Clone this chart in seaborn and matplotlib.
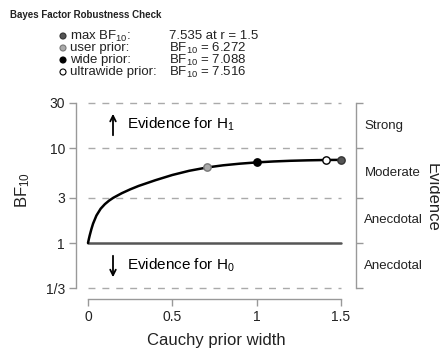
import numpy as np
import pandas as pd
import matplotlib
matplotlib.use("Agg")
import matplotlib.pyplot as plt
import seaborn as sns

# ---- data ----
prior_width = [0, 0.005, 0.01, 0.02, 0.03, 0.05, 0.075, 0.1, 0.125, 0.15, 0.2, 0.25, 0.3,
               0.4, 0.5, 0.6, 0.707, 0.8, 0.9, 1.0, 1.1, 1.2, 1.3, 1.414, 1.5]
bf10 = [1, 1.1, 1.2, 1.4, 1.6, 1.95, 2.3, 2.57, 2.8, 3.0, 3.35, 3.68, 4.0,
        4.6, 5.22, 5.78, 6.272, 6.6, 6.87, 7.088, 7.25, 7.37, 7.45, 7.516, 7.535]

point_names = ["max", "user", "wide", "ultrawide"]
point_r = [1.5, 0.707, 1.0, 1.414]
point_bf = [7.535, 6.272, 7.088, 7.516]
point_face = ["#555555", "#aaaaaa", "black", "white"]
point_edge = ["#333333", "#777777", "black", "black"]

legend_labels = ["max BF$_{10}$:", "user prior:", "wide prior:", "ultrawide prior:"]
legend_values = ["7.535 at r = 1.5", "BF$_{10}$ = 6.272", "BF$_{10}$ = 7.088", "BF$_{10}$ = 7.516"]

y_ticks = [1/3, 1, 3, 10, 30]
y_ticklabels = ["1/3", "1", "3", "10", "30"]
x_ticks = [0, 0.5, 1, 1.5]
x_ticklabels = ["0", "0.5", "1", "1.5"]
evidence_labels = ["Anecdotal", "Anecdotal", "Moderate", "Strong"]

sns.set_style("white")
plt.rcParams["font.family"] = ["Liberation Sans", "DejaVu Sans"]
plt.rcParams["mathtext.fontset"] = "custom"
plt.rcParams["mathtext.rm"] = "Liberation Sans"
plt.rcParams["mathtext.it"] = "Liberation Sans"

W, H = 440, 350
fig = plt.figure(figsize=(4.4, 3.5), dpi=100)
ax = fig.add_axes([76 / W, 1 - 299 / H, (356 - 76) / W, (299 - 100) / H])

ax.set_yscale("log")
per_px = 1.5 / 253
ax.set_xlim(0 - 12 * per_px, 1.5 + 15 * per_px)
ax.set_ylim(10 ** (-56 / 94.8), 30 * 10 ** (3 / 94.8))

# reference lines
for yv in [1/3, 3, 10, 30]:
    ax.plot([0, 1.5], [yv, yv], color="#aaaaaa", lw=1.0, ls=(0, (5, 5)), zorder=1)
ax.plot([0, 1.5], [1, 1], color="#555555", lw=1.8, zorder=2)

df = pd.DataFrame({"r": prior_width, "bf": bf10})
sns.lineplot(data=df, x="r", y="bf", ax=ax, color="black", lw=1.8, zorder=3,
             estimator=None, sort=False)

for r, b, fc, ec in zip(point_r, point_bf, point_face, point_edge):
    sns.scatterplot(x=[r], y=[b], ax=ax, s=28, color=fc, edgecolor=ec,
                    linewidth=1.0, zorder=4)

ax.set_xlabel("")
ax.set_ylabel("")
ax.set_yticks(y_ticks)
ax.set_yticklabels(y_ticklabels)
ax.yaxis.set_minor_locator(matplotlib.ticker.NullLocator())
ax.set_xticks(x_ticks)
ax.set_xticklabels(x_ticklabels)

ax.spines["top"].set_visible(False)
for s in ["left", "bottom", "right"]:
    ax.spines[s].set_visible(True)
    ax.spines[s].set_color("#999999")
    ax.spines[s].set_linewidth(1.0)
ax.spines["left"].set_bounds(1/3, 30)
ax.spines["right"].set_bounds(1/3, 30)
ax.spines["bottom"].set_bounds(0, 1.5)

ax.tick_params(axis="both", which="major", direction="out", length=5, width=1.0,
               color="#999999", labelsize=10, labelcolor="#222222", pad=3,
               left=True, bottom=True)

# right-side ticks (no labels)
axr = ax.twinx()
axr.set_yscale("log")
axr.set_ylim(ax.get_ylim())
axr.set_yticks(y_ticks)
axr.set_yticklabels([])
axr.yaxis.set_minor_locator(matplotlib.ticker.NullLocator())
for s in axr.spines.values():
    s.set_visible(False)
axr.tick_params(axis="y", direction="out", length=5, width=1.0, color="#999999")

# evidence labels at midpoints
mids = [np.sqrt(y_ticks[i] * y_ticks[i + 1]) for i in range(4)]
for m, lab in zip(mids, evidence_labels):
    ax.text(1.0 + 0.03, m, lab, transform=ax.get_yaxis_transform(), ha="left",
            va="center", fontsize=9.5, color="#222222")

fig.text(432 / W, 1 - 197 / H, "Evidence", rotation=-90, ha="center", va="center",
         fontsize=12, color="#222222")
fig.text(23 / W, 1 - 190 / H, "BF$_{10}$", rotation=90, ha="center", va="center",
         fontsize=12, color="#222222")
fig.text(216 / W, 1 - 340 / H, "Cauchy prior width", ha="center", va="center",
         fontsize=12, color="#222222")

# evidence arrows
ax_r = 25 * per_px
tx_r = 39 * per_px
ax.annotate("", xy=(ax_r, 10 ** ((243 - 111) / 94.8)), xytext=(ax_r, 10 ** ((243 - 138) / 94.8)),
            arrowprops=dict(arrowstyle="->", color="black", lw=1.3))
ax.text(tx_r, 10 ** ((243 - 124) / 94.8), "Evidence for H$_1$", ha="left", va="center",
        fontsize=11, color="black")
ax.annotate("", xy=(ax_r, 10 ** ((243 - 280) / 94.8)), xytext=(ax_r, 10 ** ((243 - 253) / 94.8)),
            arrowprops=dict(arrowstyle="->", color="black", lw=1.3))
ax.text(tx_r, 10 ** ((243 - 265) / 94.8), "Evidence for H$_0$", ha="left", va="center",
        fontsize=11, color="black")

# title & legend
fig.text(10 / W, 1 - 15 / H, "Bayes Factor Robustness Check", ha="left", va="center",
         fontsize=7, fontweight="bold", color="#222222")
rows_y = [36, 48, 60, 72]
for i, yy in enumerate(rows_y):
    fig.patches.append(matplotlib.patches.Ellipse((63 / W, 1 - yy / H), 6 / W, 6 / H,
                       transform=fig.transFigure, facecolor=point_face[i],
                       edgecolor=point_edge[i], lw=0.8))
    fig.text(70 / W, 1 - yy / H, legend_labels[i], ha="left", va="center",
             fontsize=9.5, color="#222222")
    fig.text(169 / W, 1 - yy / H, legend_values[i], ha="left", va="center",
             fontsize=9.5, color="#222222")

fig.savefig("out.png", dpi=100)
